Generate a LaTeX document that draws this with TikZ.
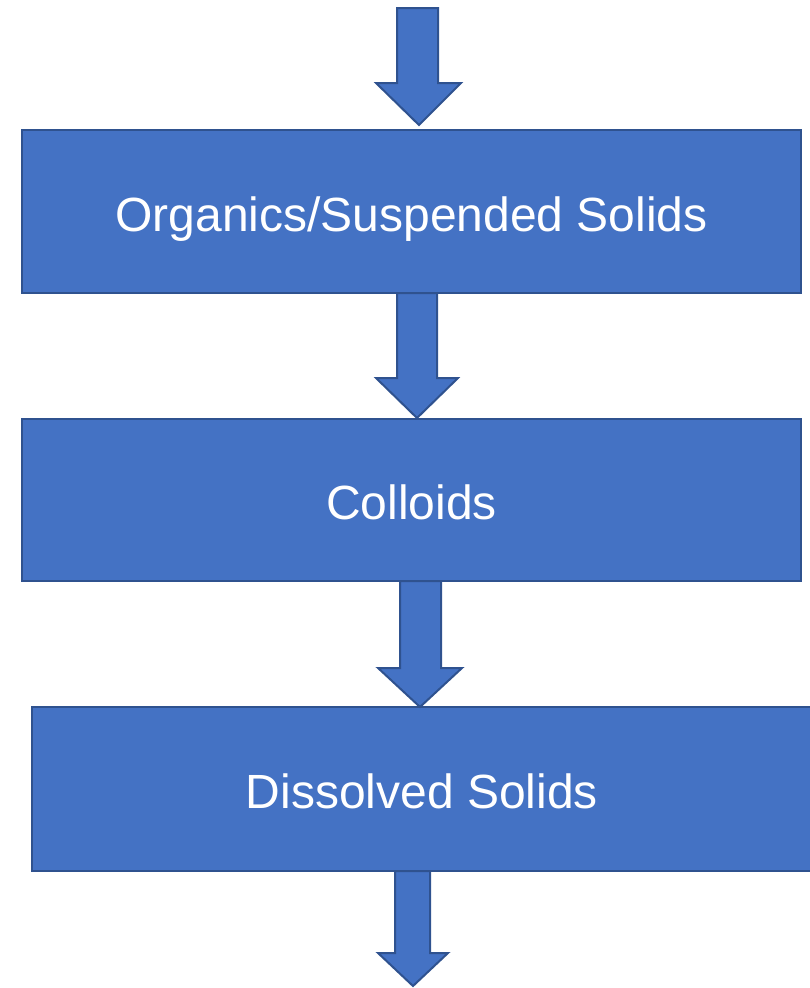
\documentclass[tikz,border=0pt]{standalone}
\usepackage{fontspec}
\setmainfont{Liberation Sans}
\definecolor{boxfill}{HTML}{4472C4}
\definecolor{boxline}{HTML}{2F528F}
\begin{document}
\begin{tikzpicture}[x=1pt,y=-1pt,
  stagebox/.style={draw=boxline,fill=boxfill,line width=2pt,rectangle,inner sep=0pt,
    text=white,font=\fontsize{48}{56}\selectfont,text height=39pt,text depth=0pt},
  blockarrow/.style={draw=boxline,fill=boxfill,line width=2pt,line join=miter}]
\useasboundingbox (0,0) rectangle (809,988);
\node[stagebox,minimum width=779pt,minimum height=163pt] (b1) at (411.5,211.5) {Organics/Suspended Solids};
\node[stagebox,minimum width=779pt,minimum height=162pt] (b2) at (411.5,500) {Colloids};
\node[stagebox,minimum width=780pt,minimum height=164pt] (b3) at (422,789) {Dissolved Solids};
% arrows
\draw[blockarrow] (397,8) -- (438,8) -- (438,83) -- (461,83) -- (419,125) coordinate (t1) -- (376,83) -- (397,83) -- cycle;
\draw[blockarrow] (397,293) -- (437,293) -- (437,378) -- (458,378) -- (417,418) coordinate (t2) -- (376,378) -- (397,378) -- cycle;
\draw[blockarrow] (400,581) -- (441,581) -- (441,668) -- (462,668) -- (420,707) coordinate (t3) -- (378,668) -- (400,668) -- cycle;
\draw[blockarrow] (395,871) -- (430,871) -- (430,953) -- (448,953) -- (413,986) coordinate (t4) -- (378,953) -- (395,953) -- cycle;
\end{tikzpicture}
\end{document}
